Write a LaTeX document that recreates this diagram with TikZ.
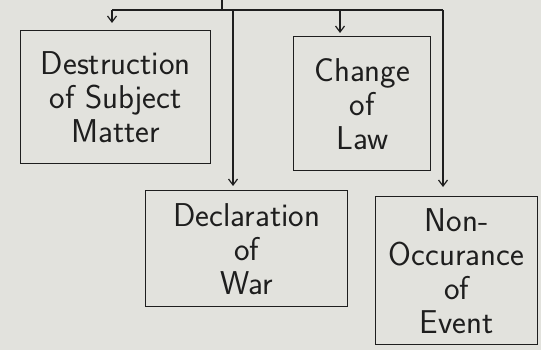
\documentclass[tikz,border=0pt]{standalone}
\usepackage{tikz}
\usetikzlibrary{arrows.meta,positioning}
\definecolor{paper}{RGB}{226,226,221}
\definecolor{ink}{RGB}{30,30,30}

\begin{document}
\begin{tikzpicture}[
	x=1pt, y=-1pt,
	box/.style={draw=ink, line width=1.4pt, anchor=north west, align=center,
	inner sep=0pt, font=\sffamily\fontsize{33}{34}\selectfont, text=ink},
	link/.style={draw=ink, line width=1.4pt},
	arr/.style={link, -{Straight Barb[length=6pt, width=9pt, line width=1.2pt]}}
	]
	\fill[paper] (0,0) rectangle (541,350);
	\useasboundingbox (0,0) rectangle (541,350);
	% boxes
	\node[box, minimum width=190pt, minimum height=133pt] (destruction) at (20,30)
	{Destruction\\of Subject\\Matter};
	\node[box, minimum width=137pt, minimum height=134pt] (change) at (293,36)
	{Change\\of\\Law};
	\node[box, minimum width=202pt, minimum height=116pt] (declaration) at (145,190)
	{Declaration\\of\\War};
	\node[box, minimum width=162pt, minimum height=148pt] (nonevent) at (375,196)
	{Non-\\Occurance\\of\\Event};
	% bar on top
	\coordinate (root) at (222,0);
	\coordinate (barL) at (112,10);
	\coordinate (barM) at (340,10);
	\coordinate (barW) at (233,10);
	\coordinate (barR) at (443,10);
	\draw[link] (barL) -- (barR);
	\draw[link] (root) -- (root |- barL);
	\draw[arr, shorten >=7pt] (barL) -- (barL |- destruction.north);
	\draw[arr, shorten >=3pt] (barM) -- (barM |- change.north);
	\draw[arr, shorten >=4pt] (barW) -- (barW |- declaration.north);
	\draw[arr, shorten >=9pt] (barR) -- (barR |- nonevent.north);
\end{tikzpicture}
\end{document}
